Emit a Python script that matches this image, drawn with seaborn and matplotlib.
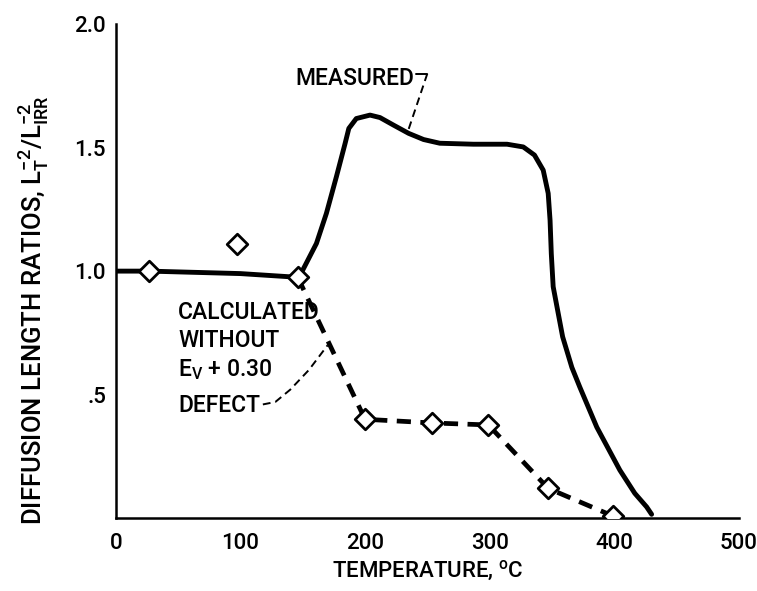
import matplotlib
matplotlib.use("Agg")
import matplotlib.pyplot as plt
import seaborn as sns

sns.set_theme(style="white")
plt.rcParams['font.family'] = ['Roboto', 'DejaVu Sans']
plt.rcParams['font.weight'] = 'medium'
plt.rcParams['axes.labelweight'] = 'medium'
plt.rcParams['mathtext.fontset'] = 'custom'
plt.rcParams['mathtext.rm'] = 'Roboto:medium'
plt.rcParams['mathtext.it'] = 'Roboto:medium'

# Measured curve
meas_temp = [0, 27, 100, 146, 150, 161, 169, 177, 184, 187, 193, 204, 212, 223,
             235, 247, 260, 287, 314, 327, 336, 343, 347, 348.5, 349.5, 351,
             358.6, 366, 372.4, 386, 404.5, 416.5, 426, 430]
meas_ratio = [1.0, 1.0, 0.99, 0.975, 1.004, 1.112, 1.234, 1.382, 1.517, 1.578,
              1.618, 1.632, 1.622, 1.591, 1.558, 1.533, 1.518, 1.514, 1.514,
              1.503, 1.470, 1.409, 1.315, 1.206, 1.07, 0.937,
              0.734, 0.61, 0.53, 0.368, 0.194, 0.10, 0.045, 0.015]

# Calculated without Ev+0.30 defect (dashed)
calc_temp = [146, 200, 254, 299, 347, 399]
calc_ratio = [0.975, 0.40, 0.385, 0.377, 0.12, 0.008]

# Diamond data points
pt_temp = [27, 97, 146, 200, 254, 299, 347, 399]
pt_ratio = [1.0, 1.11, 0.975, 0.40, 0.385, 0.377, 0.12, 0.008]

x_ticks = [0, 100, 200, 300, 400, 500]
x_ticklabels = ["0", "100", "200", "300", "400", "500"]
y_ticks = [0.5, 1.0, 1.5, 2.0]
y_ticklabels = [".5", "1.0", "1.5", "2.0"]

fig = plt.figure(figsize=(7.57, 5.91), dpi=100)
ax = fig.add_axes([0.153, 0.1235, 0.823, 0.8355])

line_kw = dict(solid_capstyle='round', solid_joinstyle='round')
sns.lineplot(x=meas_temp, y=meas_ratio, ax=ax, color="black", lw=3.5,
             sort=False, estimator=None, **line_kw)
sns.lineplot(x=calc_temp, y=calc_ratio, ax=ax, color="black", lw=3.4,
             sort=False, estimator=None, linestyle=(0, (3.0, 2.0)))
sns.scatterplot(x=pt_temp, y=pt_ratio, ax=ax, marker="D", s=110,
                facecolor="white", edgecolor="black", linewidth=2, zorder=5)

ax.set_xlim(0, 500)
ax.set_ylim(0, 2.0)
ax.set_xticks(x_ticks)
ax.set_xticklabels(x_ticklabels)
ax.set_yticks(y_ticks)
ax.set_yticklabels(y_ticklabels)
ax.tick_params(axis='both', direction='in', length=22, width=1.6, colors='black',
               labelsize=16)
ax.tick_params(axis='x', pad=11)
ax.tick_params(axis='y', pad=7)

for s in ['top', 'right']:
    ax.spines[s].set_visible(False)
for s in ['left', 'bottom']:
    ax.spines[s].set_color('black')
    ax.spines[s].set_linewidth(1.8)

ax.set_xlabel(r"TEMPERATURE, $^{\mathregular{o}}$C", fontsize=16, color='black',
              fontweight='medium')
ax.xaxis.set_label_coords(0.5, -0.082)
ax.set_ylabel(r"DIFFUSION LENGTH RATIOS, $\mathregular{L_T^{-2}/L_{IRR}^{-2}}$",
              fontsize=18.5, color='black', fontweight='medium')
ax.yaxis.set_label_coords(-0.104, 0.42)

# Annotations
fs = 16.5
ax.text(144, 1.78, "MEASURED", fontsize=fs, va='center', ha='left', color='black')
ax.plot([241, 250], [1.80, 1.80], color='black', lw=1.4)
ax.plot([250, 234], [1.80, 1.56], color='black', lw=1.4, linestyle=(0, (4, 2.5)))

ax.text(50, 0.834, "CALCULATED", fontsize=fs, va='center', ha='left', color='black')
ax.text(50, 0.72, "WITHOUT", fontsize=fs, va='center', ha='left', color='black')
ax.text(50, 0.60, r"E$_\mathregular{V}$ + 0.30", fontsize=fs, va='center', ha='left', color='black')
ax.text(50, 0.457, "DEFECT", fontsize=fs, va='center', ha='left', color='black')
ax.plot([118, 128, 140, 155, 170], [0.46, 0.47, 0.52, 0.60, 0.70], color='black',
        lw=1.4, linestyle=(0, (4, 2.5)))

fig.savefig("out.png", dpi=100)
